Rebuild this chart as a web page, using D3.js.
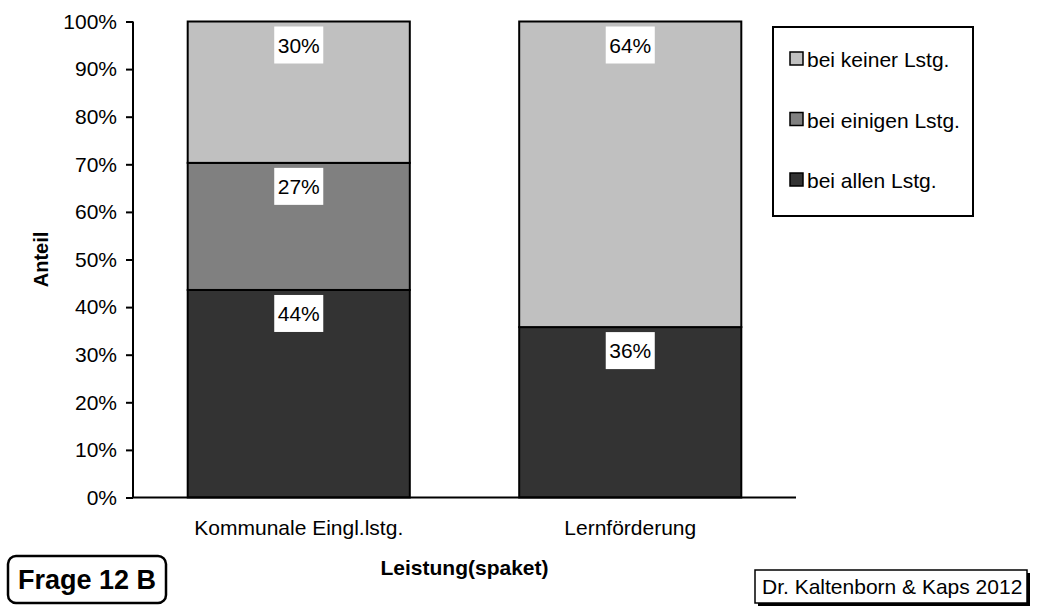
<!DOCTYPE html>
<html>
<head>
<meta charset="utf-8">
<script src="https://cdn.jsdelivr.net/npm/d3@7"></script>
<style>
  html, body { margin: 0; padding: 0; background: #fff; }
  svg { display: block; font-family: "Liberation Sans", Arial, sans-serif; }
</style>
</head>
<body>
<svg id="chart" width="1037" height="606"></svg>
<script>
// ---- data ----
const categories = ["Kommunale Eingl.lstg.", "Lernförderung"];
const seriesNames = ["bei allen Lstg.", "bei einigen Lstg.", "bei keiner Lstg."];
const seriesColors = ["#333333", "#808080", "#C0C0C0"];
const allenValues = [43.6, 35.8];
const einigenValues = [26.7, 0];
const keinerValues = [29.7, 64.2];
const yTicks = [0, 10, 20, 30, 40, 50, 60, 70, 80, 90, 100];
const yTitle = "Anteil";
const xTitle = "Leistung(spaket)";
const badgeText = "Frage 12 B";
const creditText = "Dr. Kaltenborn & Kaps 2012";

const svg = d3.select("#chart");
const plot = { left: 133, right: 796, top: 21.5, bottom: 497.5 };

const x = d3.scaleBand().domain(categories).range([plot.left, plot.right])
  .paddingInner(0.33).paddingOuter(0.165);
const y = d3.scaleLinear().domain([0, 100]).range([plot.bottom, plot.top]);

const rows = categories.map((c, i) => ({
  cat: c,
  "bei allen Lstg.": allenValues[i],
  "bei einigen Lstg.": einigenValues[i],
  "bei keiner Lstg.": keinerValues[i]
}));
const stacked = d3.stack().keys(seriesNames)(rows);

// bars
const g = svg.append("g");
stacked.forEach((layer, si) => {
  layer.forEach(d => {
    if (d[1] - d[0] <= 0) return;
    g.append("rect")
      .attr("x", x(d.data.cat))
      .attr("y", y(d[1]))
      .attr("width", x.bandwidth())
      .attr("height", y(d[0]) - y(d[1]))
      .attr("fill", seriesColors[si])
      .attr("stroke", "#000")
      .attr("stroke-width", 2);
  });
});

// data labels
stacked.forEach((layer) => {
  layer.forEach(d => {
    const v = d[1] - d[0];
    if (v <= 0) return;
    const cx = x(d.data.cat) + x.bandwidth() / 2;
    const top = y(d[1]) + 5;
    const lg = svg.append("g");
    const rect = lg.append("rect").attr("fill", "#fff");
    const t = lg.append("text")
      .attr("x", cx).attr("y", top + 18.5)
      .attr("text-anchor", "middle").attr("dominant-baseline", "central")
      .attr("font-size", 21).attr("fill", "#000")
      .text(Math.round(v) + "%");
    const w = t.node().getComputedTextLength() + 7;
    rect.attr("x", cx - w / 2).attr("y", top).attr("width", w).attr("height", 37);
  });
});

// y axis
const yAxis = svg.append("g").attr("transform", `translate(${plot.left},0)`)
  .call(d3.axisLeft(y).tickValues(yTicks).tickSize(7).tickPadding(9).tickFormat(d => d + "%"));
yAxis.select(".domain").attr("stroke", "#000").attr("stroke-width", 2)
  .attr("d", `M0,${plot.top}V${plot.bottom}`);
yAxis.selectAll(".tick line").attr("stroke", "#000").attr("stroke-width", 2);
yAxis.selectAll(".tick text").attr("font-size", 21).attr("fill", "#000")
  .attr("font-family", "Liberation Sans, Arial, sans-serif");

// x axis
const xAxis = svg.append("g").attr("transform", `translate(0,${plot.bottom})`)
  .call(d3.axisBottom(x).tickSize(0).tickPadding(23));
xAxis.select(".domain").attr("stroke", "#000").attr("stroke-width", 2)
  .attr("d", `M${plot.left},0H${plot.right}`);
xAxis.selectAll(".tick text").attr("font-size", 21).attr("fill", "#000")
  .attr("font-family", "Liberation Sans, Arial, sans-serif");

// axis titles
svg.append("text").attr("x", (plot.left + plot.right) / 2).attr("y", 575)
  .attr("text-anchor", "middle").attr("font-size", 21).attr("font-weight", "bold")
  .text(xTitle);
svg.append("text").attr("transform", `translate(48,${(plot.top + plot.bottom) / 2}) rotate(-90)`)
  .attr("text-anchor", "middle").attr("font-size", 20).attr("font-weight", "bold")
  .text(yTitle);

// legend
const legend = svg.append("g");
legend.append("rect").attr("x", 773).attr("y", 27).attr("width", 200).attr("height", 189)
  .attr("fill", "#fff").attr("stroke", "#000").attr("stroke-width", 2);
const legendOrder = [2, 1, 0];
legendOrder.forEach((si, i) => {
  const cy = 59 + i * 60.5;
  legend.append("rect").attr("x", 790).attr("y", cy - 7).attr("width", 13).attr("height", 13)
    .attr("fill", seriesColors[si]).attr("stroke", "#000").attr("stroke-width", 1.5);
  legend.append("text").attr("x", 807).attr("y", cy + 8)
    .attr("font-size", 21).attr("fill", "#000").text(seriesNames[si]);
});

// badge
svg.append("rect").attr("x", 8).attr("y", 556).attr("width", 158).attr("height", 47)
  .attr("rx", 8).attr("ry", 8).attr("fill", "#fff").attr("stroke", "#000").attr("stroke-width", 2.5);
svg.append("text").attr("x", 87).attr("y", 589).attr("text-anchor", "middle")
  .attr("font-size", 27).attr("font-weight", "bold").text(badgeText);

// credit box with shadow
svg.append("rect").attr("x", 758).attr("y", 573).attr("width", 272).attr("height", 33).attr("fill", "#000");
svg.append("rect").attr("x", 755).attr("y", 570).attr("width", 272).attr("height", 33)
  .attr("fill", "#fff").attr("stroke", "#000").attr("stroke-width", 1.5);
svg.append("text").attr("x", 762).attr("y", 594).attr("font-size", 21).text(creditText);
</script>
</body>
</html>
